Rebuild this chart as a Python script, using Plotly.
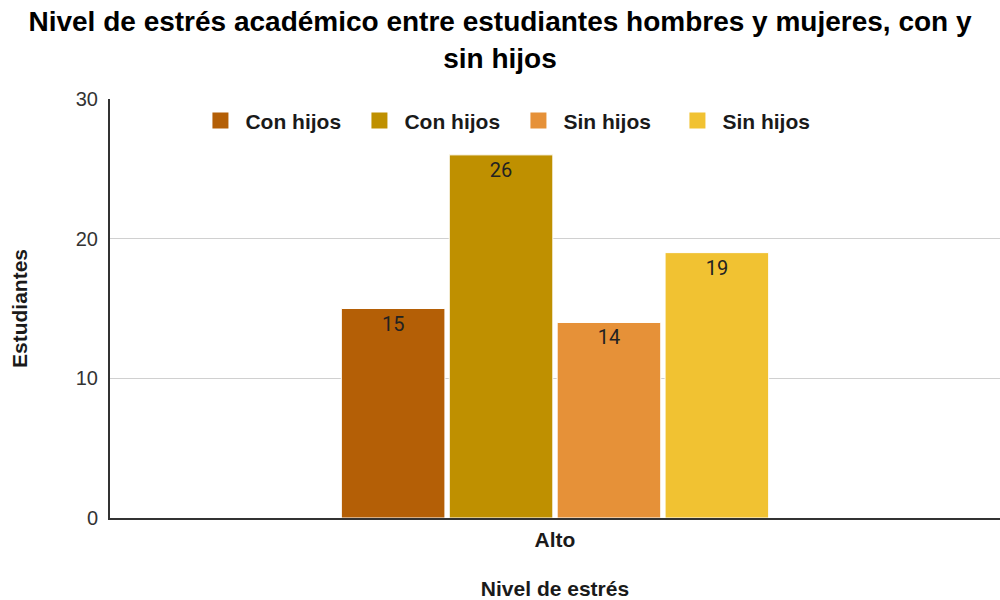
import plotly.graph_objects as go

# Data
categories = ["Alto"]
series_names = ["Con hijos", "Con hijos", "Sin hijos", "Sin hijos"]
series_values = [[15], [26], [14], [19]]
series_colors = ["#b45f06", "#bf9000", "#e69138", "#f1c232"]
y_ticks = [0, 10, 20, 30]

FONT = "Liberation Sans, Arial"

fig = go.Figure()

for name, vals, color in zip(series_names, series_values, series_colors):
    fig.add_trace(go.Bar(
        x=categories, y=vals, name=name,
        marker=dict(color=color, line=dict(color="white", width=1)),
        text=[str(v) for v in vals],
        textposition="inside", insidetextanchor="end",
        textfont=dict(family="Roboto", size=20, color="#222222"),
        showlegend=False,
    ))
    # Legend swatch (square marker)
    fig.add_trace(go.Scatter(
        x=[None], y=[None], mode="markers", name=name,
        marker=dict(symbol="square", size=16, color=color),
        showlegend=True,
    ))

fig.update_layout(
    width=1000, height=600,
    margin=dict(l=110, r=0, t=99, b=82),
    paper_bgcolor="white", plot_bgcolor="white",
    barmode="group", bargap=0.515, bargroupgap=0.04,
    title=dict(
        text="Nivel de estrés académico entre estudiantes hombres y mujeres, con y<br>sin hijos",
        x=0.5, xanchor="center", y=0.948, yanchor="top",
        font=dict(family=FONT, size=28, color="#000000", weight="bold"),
    ),
    legend=dict(
        orientation="h", x=0.096, y=0.997, xanchor="left", yanchor="top",
        itemwidth=40, entrywidth=104,
        font=dict(family=FONT, size=21, color="#1a1a1a", weight="bold"),
        bgcolor="rgba(0,0,0,0)",
    ),
    xaxis=dict(
        type="category", automargin=False,
        title=dict(text="Nivel de estrés", standoff=39,
                   font=dict(family=FONT, size=21, color="#1a1a1a", weight="bold")),
        tickfont=dict(family=FONT, size=21, color="#1a1a1a", weight="bold"),
        ticklabelstandoff=2,
        showline=True, linecolor="#333333", linewidth=2,
        ticks="", showgrid=False,
    ),
    yaxis=dict(
        range=[0, 30], tickvals=y_ticks, automargin=False,
        title=dict(text="Estudiantes", standoff=42,
                   font=dict(family=FONT, size=21, color="#1a1a1a", weight="bold")),
        tickfont=dict(family=FONT, size=20, color="#333333"),
        ticklabelstandoff=6,
        showline=True, linecolor="#333333", linewidth=2,
        gridcolor="#d0d0d0", gridwidth=1,
        ticks="", zeroline=False,
    ),
)

fig.write_html("out.html")
